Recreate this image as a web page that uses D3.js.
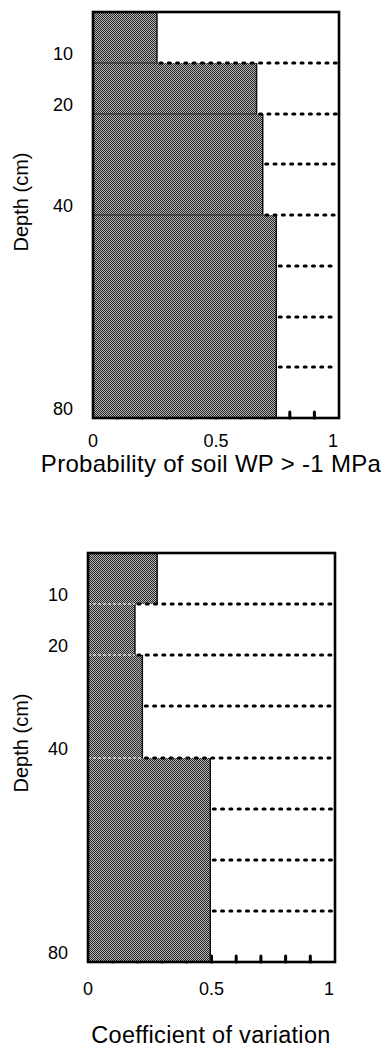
<!DOCTYPE html>
<html>
<head>
<meta charset="utf-8">
<script src="https://cdn.jsdelivr.net/npm/d3@7"></script>
<style>
  html, body { margin: 0; padding: 0; background: #fff; }
  svg { display: block; font-family: "Liberation Sans", Arial, sans-serif; }
</style>
</head>
<body>
<svg id="chart" width="383" height="1050"></svg>
<script>
// Soil layers: 10 cm slices from the surface down to 80 cm
const layerTops = [0, 10, 20, 30, 40, 50, 60, 70];
const layerBottoms = [10, 20, 30, 40, 50, 60, 70, 80];

// Probability that soil water potential exceeds -1 MPa, per layer
const probWP = [0.26, 0.665, 0.69, 0.69, 0.745, 0.745, 0.745, 0.745];
// Coefficient of variation of the same quantity, per layer
const coefVar = [0.28, 0.19, 0.22, 0.22, 0.495, 0.495, 0.495, 0.495];

const depthTicks = [10, 20, 40, 80];
const xTickLabels = [0, 0.5, 1];
const minorTicks = [0.1, 0.2, 0.3, 0.4, 0.5, 0.6, 0.7, 0.8, 0.9];

const svg = d3.select("#chart");

// Stipple fill used for the bars
const defs = svg.append("defs");
const pat = defs.append("pattern")
  .attr("id", "stipple")
  .attr("patternUnits", "userSpaceOnUse")
  .attr("width", 2).attr("height", 2);
pat.append("rect").attr("width", 2).attr("height", 2).attr("fill", "#b4b4b4");
pat.append("rect").attr("x", 0).attr("y", 0).attr("width", 1).attr("height", 1).attr("fill", "#262626");
pat.append("rect").attr("x", 1).attr("y", 1).attr("width", 1).attr("height", 1).attr("fill", "#262626");

function drawPanel(cfg) {
  const { left, right, top, bottom, values, title, titleY, titleSize, labelGap, depthLabelY, seamColor, seamDash } = cfg;
  const x = d3.scaleLinear().domain([0, 1]).range([left, right]);
  const y = d3.scaleLinear().domain([0, 80]).range([top, bottom]).interpolate(d3.interpolateRound);
  const g = svg.append("g");

  // Inward minor ticks along the base, partly hidden behind the bars
  g.selectAll("line.minor").data(minorTicks).join("line")
    .attr("class", "minor")
    .attr("x1", d => x(d)).attr("x2", d => x(d))
    .attr("y1", bottom).attr("y2", bottom - 6)
    .attr("stroke", "#000").attr("stroke-width", 3)
    .attr("stroke-linecap", "round");

  // Layer bars
  const layers = values.map((v, i) => ({ v, top: layerTops[i], bot: layerBottoms[i] }));
  g.selectAll("rect.bar").data(layers).join("rect")
    .attr("class", "bar")
    .attr("x", x(0))
    .attr("y", d => y(d.top))
    .attr("width", d => x(d.v) - x(0))
    .attr("height", d => y(d.bot) - y(d.top))
    .attr("fill", "url(#stipple)")
    .attr("shape-rendering", "crispEdges");

  // Right edge of each bar
  g.selectAll("line.edge").data(layers).join("line")
    .attr("class", "edge")
    .attr("x1", d => x(d.v)).attr("x2", d => x(d.v))
    .attr("y1", d => y(d.top)).attr("y2", d => y(d.bot))
    .attr("stroke", "#111").attr("stroke-width", 1.5);

  // Seams where the layer value changes
  const seams = layers.slice(1)
    .map((d, i) => ({ depth: d.top, lo: Math.min(d.v, layers[i].v), changed: d.v !== layers[i].v }))
    .filter(d => d.changed);
  g.selectAll("line.seam").data(seams).join("line")
    .attr("class", "seam")
    .attr("x1", x(0)).attr("x2", d => x(d.lo))
    .attr("y1", d => y(d.depth)).attr("y2", d => y(d.depth))
    .attr("stroke", seamColor).attr("stroke-width", 1)
    .attr("stroke-dasharray", seamDash);

  // Dotted layer boundaries across the open part of the panel
  const bounds = layers.slice(1).map((d, i) => ({ depth: d.top, from: Math.min(d.v, layers[i].v) }));
  g.selectAll("line.bound").data(bounds).join("line")
    .attr("class", "bound")
    .attr("x1", d => x(d.from) + 3).attr("x2", x(1) - 2)
    .attr("y1", d => y(d.depth)).attr("y2", d => y(d.depth))
    .attr("stroke", "#000").attr("stroke-width", 3)
    .attr("stroke-linecap", "round")
    .attr("stroke-dasharray", "2 6.3");

  // Frame
  g.append("rect")
    .attr("x", left).attr("y", top)
    .attr("width", right - left).attr("height", bottom - top)
    .attr("fill", "none").attr("stroke", "#000").attr("stroke-width", 2.6);

  // Depth tick labels
  g.selectAll("text.ytick").data(depthTicks).join("text")
    .attr("class", "ytick")
    .attr("x", left - 20)
    .attr("y", d => y(d) - 3)
    .attr("text-anchor", "end")
    .attr("font-size", 18)
    .text(d => d);

  // X tick labels
  g.selectAll("text.xtick").data(xTickLabels).join("text")
    .attr("class", "xtick")
    .attr("x", (d, i) => i === xTickLabels.length - 1 ? x(d) - 1 : x(d))
    .attr("y", bottom + labelGap)
    .attr("text-anchor", (d, i) => i === xTickLabels.length - 1 ? "end" : "middle")
    .attr("font-size", 18)
    .text(d => d);

  // Axis titles
  g.append("text")
    .attr("transform", `translate(28,${depthLabelY}) rotate(-90)`)
    .attr("text-anchor", "middle")
    .attr("font-size", 20)
    .text("Depth (cm)");

  g.append("text")
    .attr("x", 211).attr("y", titleY)
    .attr("text-anchor", "middle")
    .attr("font-size", titleSize)
    .attr("letter-spacing", 0.3)
    .text(title);
}

drawPanel({
  left: 93, right: 339, top: 12, bottom: 418,
  values: probWP,
  title: "Probability of soil WP > -1 MPa",
  titleY: 472, titleSize: 24, labelGap: 29, depthLabelY: 202,
  seamColor: "#222", seamDash: null
});

drawPanel({
  left: 88, right: 335, top: 553, bottom: 962,
  values: coefVar,
  title: "Coefficient of variation",
  titleY: 1043, titleSize: 23.5, labelGap: 33, depthLabelY: 743,
  seamColor: "#fff", seamDash: "3 2"
});
</script>
</body>
</html>
